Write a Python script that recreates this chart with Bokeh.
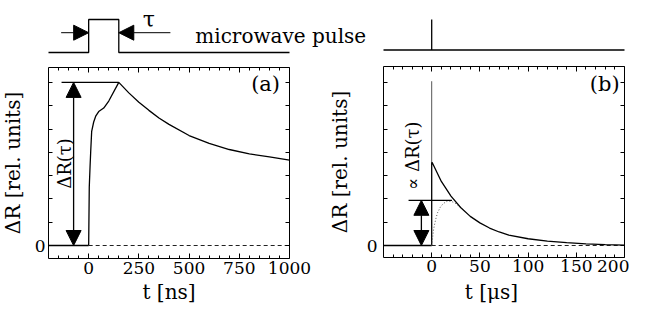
import math
from bokeh.plotting import figure
from bokeh.models import Range1d, LinearAxis, FixedTicker, Label, Arrow, NormalHead
from bokeh.embed import file_html
from bokeh.resources import INLINE

# ---------------- data ----------------
# panel (a): time in ns, signal in rel. units
t_a = [0, 3, 7, 10, 15, 25, 35, 50, 75, 100, 150, 200, 250, 300, 350, 400, 500, 600, 700, 800, 900, 1000]
r_a = [0, 0.25, 0.34, 0.40, 0.49, 0.53, 0.555, 0.575, 0.59, 0.62, 0.70, 0.655, 0.615, 0.58, 0.547, 0.52,
       0.472, 0.438, 0.412, 0.393, 0.38, 0.366]
tau_ns = 150
ref_a_t = [-135, 150]          # horizontal marker at the peak
arrow_a_t = -75                # double arrow position

# panel (b): time in microseconds
t_b = [0, 0, 0.5, 10, 20, 30, 40, 50, 60, 70, 80, 100, 120, 140, 160, 180, 200]
r_b = [0, 0.356, 0.356, 0.275, 0.212, 0.163, 0.125, 0.097, 0.075, 0.058, 0.045, 0.029, 0.019,
       0.012, 0.007, 0.004, 0.002]
spike_b = 0.705
td_b = [0, 2, 4, 6, 9, 12, 16, 20, 24, 28]
rd_b = [0, 0.07, 0.11, 0.14, 0.165, 0.18, 0.19, 0.19, 0.183, 0.17]
ref_b_t = [-24, 21]
ref_b_v = 0.194
arrow_b_t = -10.7

# microwave pulses (0 = off, 1 = on)
pulse_a_t = [-200, 0, 0, tau_ns, tau_ns, 1000]
pulse_a_v = [0, 0, 1, 1, 0, 0]
pulse_b_t = [-50, 0, 0, 0, 200]
pulse_b_v = [0, 0, 1, 0, 0]

xticks_a = [0, 250, 500, 750, 1000]
xminor_a = [v for v in range(-150, 1000, 50) if v % 250 != 0]
xticks_b = [0, 50, 100, 150, 200]
xminor_b = [v for v in range(-40, 200, 10) if v % 50 != 0]
yminor = [0.1, 0.2, 0.3, 0.4, 0.5, 0.6, 0.7]

# ---------------- layout (canvas pixels) ----------------
W, H = 629, 310
A_L, A_R = 48, 289          # panel a frame (t=-200 .. 1000)
B_L, B_R = 383, 624         # panel b frame (t=-50 .. 200)
ZERO = 245                  # canvas y of signal zero
K = 233.0                   # px per signal unit
A_XMIN, A_XMAX = -200, 1000
B_XMIN, B_XMAX = -50, 200
A_Y0, A_Y1 = -0.0575, 0.765
B_Y0, B_Y1 = -0.051, 0.769
PA0, PA1 = 52, 19           # pulse a: canvas y of 0 and 1
PB0, PB1 = 49.5, 19

sa = (A_R - A_L) / (A_XMAX - A_XMIN)
sb = (B_R - B_L) / (B_XMAX - B_XMIN)
xr_a = Range1d(A_XMIN - A_L / sa, A_XMIN + (W - A_L) / sa)
xr_b = Range1d(B_XMIN - B_L / sb, B_XMIN + (W - B_L) / sb)
yr = Range1d(-(H - ZERO) / K, ZERO / K)
ka = PA0 - PA1
kb = PB0 - PB1
yr_pa = Range1d(-(H - PA0) / ka, PA0 / ka)
yr_pb = Range1d(-(H - PB0) / kb, PB0 / kb)

FONT = "DejaVu Serif"
INK = "black"

p = figure(width=W, height=H, x_range=xr_a, y_range=yr, output_backend="svg",
           toolbar_location=None, x_axis_location=None, y_axis_location=None,
           min_border=0, title=None)
p.extra_x_ranges = {"b": xr_b}
p.extra_y_ranges = {"pa": yr_pa, "pb": yr_pb}
p.outline_line_color = None
p.grid.visible = False


def style(ax, labels=True):
    ax.axis_line_color = INK
    ax.axis_line_width = 1
    ax.major_tick_line_color = INK
    ax.minor_tick_line_color = INK
    ax.major_tick_in = 5
    ax.major_tick_out = 0
    ax.minor_tick_in = 3
    ax.minor_tick_out = 0
    ax.major_label_text_font = FONT
    ax.major_label_text_font_size = "17px"
    ax.major_label_text_color = INK if labels else None
    ax.axis_label_text_font = FONT
    ax.axis_label_text_font_style = "normal"
    ax.axis_label_text_font_size = "20px"
    ax.axis_label_text_color = INK


def panel_axes(xrn, x0, x1, y0, y1, xt, xm, lab_standoff, title_standoff):
    kw = {} if xrn is None else {"x_range_name": xrn}
    b = LinearAxis(fixed_location=y0, bounds=(x0, x1),
                   ticker=FixedTicker(ticks=xt, minor_ticks=xm), major_label_standoff=3, **kw)
    style(b)
    p.add_layout(b, "below")
    t = LinearAxis(fixed_location=y1, bounds=(x0, x1),
                   ticker=FixedTicker(ticks=xt, minor_ticks=xm), **kw)
    style(t, labels=False)
    t.major_label_text_font_size = "0px"
    p.add_layout(t, "above")
    l = LinearAxis(fixed_location=x0, bounds=(y0, y1),
                   ticker=FixedTicker(ticks=[0], minor_ticks=yminor),
                   axis_label="ΔR [rel. units]", major_label_standoff=lab_standoff,
                   axis_label_standoff=title_standoff, **kw)
    style(l)
    l.major_tick_in = 4
    l.minor_tick_in = 4
    p.add_layout(l, "left")
    r = LinearAxis(fixed_location=x1, bounds=(y0, y1),
                   ticker=FixedTicker(ticks=[0], minor_ticks=yminor), **kw)
    style(r, labels=False)
    r.major_label_text_font_size = "0px"
    r.major_tick_in = 4
    r.minor_tick_in = 4
    p.add_layout(r, "right")


panel_axes(None, A_XMIN, A_XMAX, A_Y0, A_Y1, xticks_a, xminor_a, 3, 7)
panel_axes("b", B_XMIN, B_XMAX, B_Y0, B_Y1, xticks_b, xminor_b, 6, 12)

LW = 1.3


def head():
    return NormalHead(size=15, fill_color=INK, line_color=INK)


def label(**kw):
    kw.setdefault("text_font", FONT)
    kw.setdefault("text_color", INK)
    kw.setdefault("text_align", "center")
    kw.setdefault("text_baseline", "middle")
    p.add_layout(Label(**kw))


# ---- panel (a)
p.line([A_XMIN, 0], [0, 0], line_color=INK, line_width=LW)
p.line([0, A_XMAX], [0, 0], line_color="#222222", line_width=1, line_dash="4 3")
p.line(t_a, r_a, line_color=INK, line_width=LW)
peak_a = max(r_a)
p.line(ref_a_t, [peak_a, peak_a], line_color=INK, line_width=LW)
p.add_layout(Arrow(x_start=arrow_a_t, y_start=0, x_end=arrow_a_t, y_end=peak_a,
                   line_width=LW, line_color=INK, start=head(), end=head()))
label(x=-121, y=0.352, text="ΔR(τ)", angle=math.pi / 2, text_font_size="18px")
label(x=881, y=0.692, text="(a)", text_font_size="21px")
label(x=400, y=-0.2017, text="t [ns]", text_font_size="20px")

# ---- panel (b)
p.line([B_XMIN, 0], [0, 0], line_color=INK, line_width=LW, x_range_name="b")
p.line([0, B_XMAX], [0, 0], line_color="#222222", line_width=1, line_dash="4 3", x_range_name="b")
p.line([0, 0], [r_b[1], spike_b], line_color="#555555", line_width=1, x_range_name="b")
p.line(t_b, r_b, line_color=INK, line_width=LW, x_range_name="b")
p.line(td_b, rd_b, line_color="#555555", line_width=1, line_dash="1 2", x_range_name="b")
p.line(ref_b_t, [ref_b_v, ref_b_v], line_color=INK, line_width=LW, x_range_name="b")
p.add_layout(Arrow(x_start=arrow_b_t, y_start=0, x_end=arrow_b_t, y_end=ref_b_v,
                   line_width=LW, line_color=INK, x_range_name="b", start=head(), end=head()))
label(x=-19.7, y=0.385, text="∝ ΔR(τ)", angle=math.pi / 2, text_font_size="18px", x_range_name="b")
label(x=179.5, y=0.692, text="(b)", text_font_size="21px", x_range_name="b")
label(x=62, y=-0.2017, text="t [μs]", text_font_size="20px", x_range_name="b")

# ---- pulses
p.line(pulse_a_t, pulse_a_v, line_color=INK, line_width=LW, y_range_name="pa")
p.line(pulse_b_t, pulse_b_v, line_color=INK, line_width=LW, x_range_name="b", y_range_name="pb")
ya = 0.6
p.add_layout(Arrow(x_start=-137, y_start=ya, x_end=0, y_end=ya, line_width=1, line_color=INK,
                   y_range_name="pa", end=head()))
p.add_layout(Arrow(x_start=407, y_start=ya, x_end=tau_ns, y_end=ya, line_width=1, line_color=INK,
                   y_range_name="pa", end=head()))
label(x=300, y=1.0, text="τ", text_baseline="alphabetic", text_font_size="22px", y_range_name="pa")
label(x=531, y=0.515, text="microwave pulse", text_align="left", text_baseline="alphabetic",
      text_font_size="20px", y_range_name="pa")

open("out.html", "w").write(file_html(p, INLINE))
